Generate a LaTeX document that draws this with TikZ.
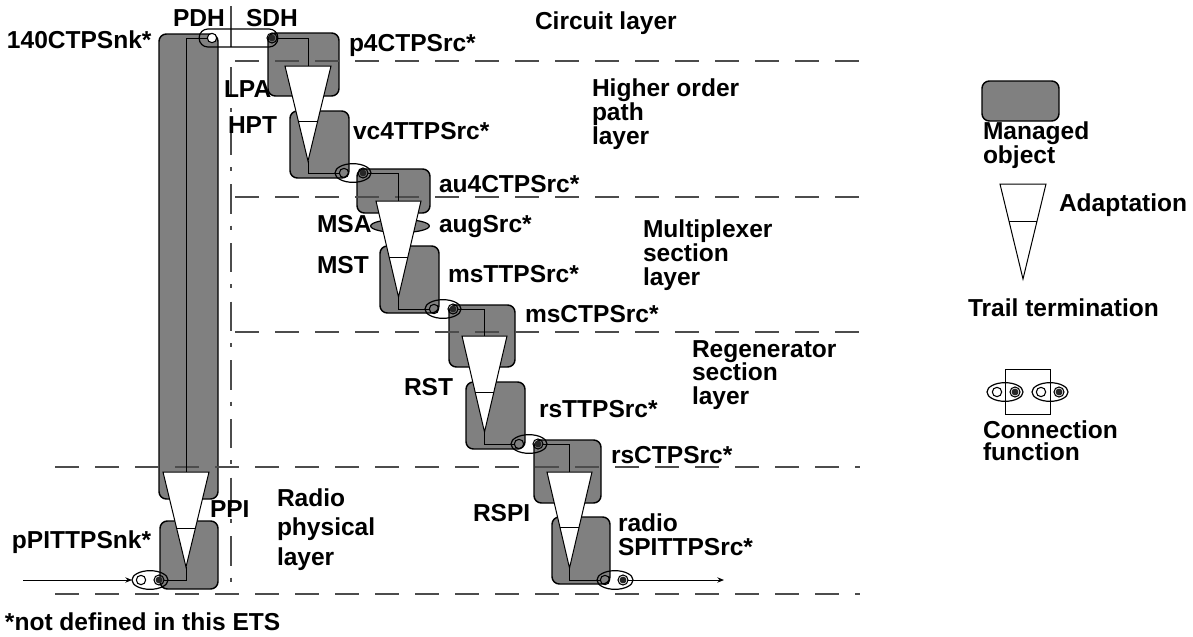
\documentclass[tikz,border=0pt]{standalone}
\usepackage{fontspec}
\setmainfont{Liberation Sans}
\usetikzlibrary{shapes.geometric,arrows.meta,calc}
\newcommand{\mobj}[5]{%
  \pgfmathsetmacro{\mw}{(#4-#2)*0.75}\pgfmathsetmacro{\mh}{(#5-#3)*0.75}%
  \node[mo,minimum width=\mw pt,minimum height=\mh pt] (#1) at ({(#2+#4)/2},{(#3+#5)/2}) {};}
\newcommand{\adapt}[6]{% name, xl, ytop, xr, yapex, ydiv
  \coordinate (#1-top) at ({(#2+#4)/2},#3);
  \coordinate (#1-apex) at ({(#2+#4)/2},#5);
  \coordinate (#1-l) at (#2,#3);
  \coordinate (#1-r) at (#4,#3);
  \draw[wire,fill=white,line join=miter] (#1-l) -- (#1-r) -- (#1-apex) -- cycle;
  \draw[wire] ($(#1-l)!{(#6-#3)/(#5-#3)}!(#1-apex)$) -- ($(#1-r)!{(#6-#3)/(#5-#3)}!(#1-apex)$);}
\newcommand{\conn}[3]{% name, cx, cy : ellipse with in/out points
  \node[connell] (#1) at (#2,#3) {};}
\tikzset{
  mo/.style={draw=black,fill=moGray,rounded corners=5.5pt,line width=1.1pt,inner sep=0pt,outer sep=0pt},
  wire/.style={draw=black,line width=0.75pt},
  connell/.style={ellipse,draw=black,line width=0.9pt,minimum width=27pt,minimum height=14pt,inner sep=0pt,outer sep=0pt},
  openpt/.style={circle,draw=black,line width=0.8pt,minimum size=7pt,inner sep=0pt,outer sep=0pt},
  whitept/.style={openpt,fill=white},
  darkpt/.style={circle,draw=black,line width=0.8pt,minimum size=7.5pt,inner sep=0pt,outer sep=0pt,
     path picture={\fill[black!85] (path picture bounding box.center) circle (2.6pt);}},
  layerline/.style={draw=black!70,line width=0.8pt,dash pattern=on 18pt off 12pt},
  boundary/.style={draw=black!70,line width=0.8pt,dash pattern=on 22pt off 9pt on 3pt off 10pt},
  lbl/.style={anchor=base west,inner sep=0pt,outer sep=0pt,align=left,font=\fontsize{18.4}{18}\selectfont\bfseries},
  lblb/.style={lbl,font=\fontsize{18.4}{17.3}\selectfont\bfseries},
  lblc/.style={lbl,font=\fontsize{18.4}{22}\selectfont\bfseries},
  lbld/.style={lbl,font=\fontsize{18.4}{16.5}\selectfont\bfseries},
}
\definecolor{moGray}{gray}{0.5}
\begin{document}
\begin{tikzpicture}[x=0.75pt,y=-0.75pt]
\useasboundingbox (0,0) rectangle (1193,636);
% managed objects
\mobj{tall}{159}{34}{218}{499}
\mobj{ppi}{160}{521}{218}{589}
\mobj{p4}{268}{33}{339}{96}
\mobj{vc4}{290}{111}{349}{178}
\mobj{au4}{357}{169}{430}{213}
\mobj{mst}{380}{246}{439}{313}
\mobj{msc}{449}{305}{515}{367}
\mobj{rst}{466}{382}{525}{449}
\mobj{rsc}{534}{440}{601}{503}
\mobj{spi}{552}{517}{610}{584}
\mobj{legmo}{982}{81}{1059}{121}
\node[ellipse,draw=black,fill=moGray,line width=0.9pt,minimum width=44pt,minimum height=10pt,inner sep=0pt] (aug) at (400,226) {};
% layer lines
\coordinate (a1) at (235,61);  \coordinate (a2) at (860,61);
\coordinate (b1) at (235,197); \coordinate (b2) at (860,197);
\coordinate (c1) at (235,332); \coordinate (c2) at (860,332);
\coordinate (d1) at (55,467);  \coordinate (d2) at (860,467);
\coordinate (e1) at (55,594);  \coordinate (e2) at (860,594);
\foreach \p/\q in {a1/a2,b1/b2,c1/c2,d1/d2,e1/e2} \draw[layerline] (\p) -- (\q);
% PDH/SDH boundary
\coordinate (v0) at (231,6); \coordinate (v1) at (231,47); \coordinate (v2) at (231,590);
\draw[draw=black!70,line width=0.8pt] (v0) -- (v1);
\draw[boundary] ($(v1)+(0,20)$) -- (v2);
% connection functions
\node[draw=black,line width=0.9pt,rounded corners=6.5pt,minimum width=59pt,minimum height=13.5pt,inner sep=0pt,outer sep=0pt] (cf0) at (238.5,38) {};
\node[whitept] (cf0i) at (212,38) {}; \node[darkpt] (cf0o) at (272,38) {};
\conn{cf1}{353}{173} \node[openpt] (cf1i) at (344,173) {}; \node[darkpt] (cf1o) at (363,173) {};
\conn{cf2}{443}{309} \node[openpt] (cf2i) at (434,309) {}; \node[darkpt] (cf2o) at (453,309) {};
\conn{cf3}{529}{444} \node[openpt] (cf3i) at (519,444) {}; \node[darkpt] (cf3o) at (538,444) {};
\conn{cf4}{615}{580} \node[openpt] (cf4i) at (605,580) {}; \node[darkpt] (cf4o) at (623,580) {};
\conn{cf5}{150}{580} \node[whitept] (cf5i) at (141,580) {}; \node[darkpt] (cf5o) at (159,580) {};
% adaptation / termination
\coordinate (tp4t) at (308,66); \coordinate (tau4t) at (398.5,201); \coordinate (tmst) at (484.5,336);
\coordinate (trst) at (569.5,472); \coordinate (tppit) at (186,472);
\draw[wire] (cf0i) -- (186,38) -- (tppit);
\draw[wire] (cf0o) -| (tp4t);
\draw[wire] (cf1o) -| (tau4t);
\draw[wire] (cf2o) -| (tmst);
\draw[wire] (cf3o) -| (trst);
\adapt{t1}{285}{66}{331}{161}{121}
\adapt{t2}{376}{201}{421}{297}{257}
\adapt{t3}{462}{336}{507}{432}{392}
\adapt{t4}{547}{472}{592}{568}{527}
\adapt{t5}{163}{472}{209}{567}{528}
\adapt{t6}{1000}{184}{1046}{279}{221}
\draw[wire] (t1-apex) |- (cf1i);
\draw[wire] (t2-apex) |- (cf2i);
\draw[wire] (t3-apex) |- (cf3i);
\draw[wire] (t4-apex) |- (cf4i);
\draw[wire] (t5-apex) |- (cf5o);
\coordinate (inp) at (23,580); \coordinate (outp) at (724,580);
\draw[wire,-{Stealth[length=5pt,width=4pt]}] (inp) -- (cf5);
\draw[wire,-{Stealth[length=5pt,width=4pt]}] (cf4o) -- (outp);
% legend connection function
\node[draw=black,line width=0.75pt,minimum width=33.75pt,minimum height=33.75pt,inner sep=0pt,outer sep=0pt] (legbox) at (1027.5,391.5) {};
\conn{leg1}{1005}{392} \node[whitept] (leg1i) at (997,392) {}; \node[darkpt] (leg1o) at (1015,392) {};
\conn{leg2}{1050}{392} \node[whitept] (leg2i) at (1041,392) {}; \node[darkpt] (leg2o) at (1059,392) {};
% labels
\node[lbl] (tPDH) at (173,26) {PDH};
\node[lbl] (tSDH) at (246,26) {SDH};
\node[lbl] (t140) at (7,48) {140CTPSnk*};
\node[lbl] (tcirc) at (535,29) {Circuit layer};
\node[lbl] (tp4) at (349,51) {p4CTPSrc*};
\node[lbl] (tLPA) at (224,97) {LPA};
\node[lbl] (tHPT) at (228,133) {HPT};
\node[lbl] (tvc4) at (353,139) {vc4TTPSrc*};
\node[lbl] (tau4) at (439,192) {au4CTPSrc*};
\node[lbl] (tMSA) at (317,232) {MSA};
\node[lbl] (taug) at (439,232) {augSrc*};
\node[lbl] (tMST) at (317,273) {MST};
\node[lbl] (tmsT) at (448,282) {msTTPSrc*};
\node[lbl] (tmsC) at (525,322) {msCTPSrc*};
\node[lbl] (tRST) at (404,395) {RST};
\node[lbl] (trsT) at (539,417) {rsTTPSrc*};
\node[lbl] (trsC) at (611,463) {rsCTPSrc*};
\node[lbl] (tRSPI) at (473,521) {RSPI};
\node[lbl] (tPPI) at (210,517) {PPI};
\node[lbl] (tpPI) at (12,548) {pPITTPSnk*};
\node[lbl] (tnote) at (5,630) {*not defined in this ETS};
\node[lbl] (tradio) at (618,555) {radio\\SPITTPSrc*};
\node[lbl] (tho) at (592,144) {Higher order\\path\\layer};
\node[lbl] (tmux) at (643,285) {Multiplexer\\section\\layer};
\node[lblb] (treg) at (692,404) {Regenerator\\section\\layer};
\node[lblc] (trad) at (277,565) {Radio\\physical\\layer};
\node[lbl] (tman) at (983,163) {Managed\\object};
\node[lbl] (tada) at (1059,211) {Adaptation};
\node[lbl] (ttrail) at (968,316) {Trail termination};
\node[lbld] (tconn) at (983,460) {Connection\\function};
\end{tikzpicture}
\end{document}
